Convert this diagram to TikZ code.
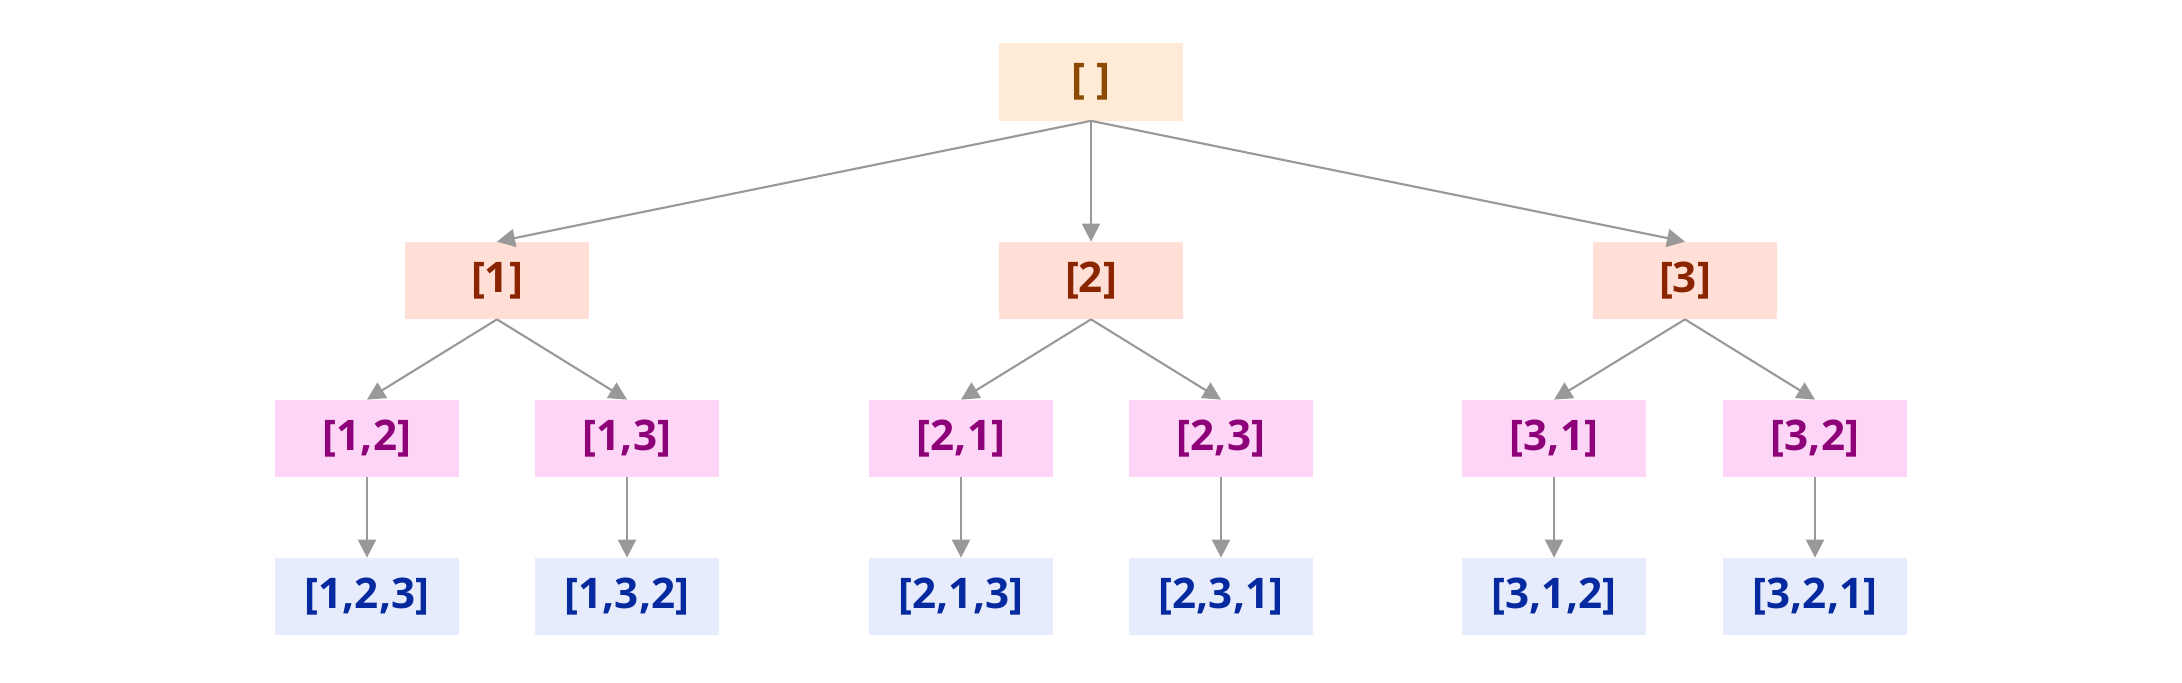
\documentclass[tikz,border=0pt]{standalone}
\usepackage{fontspec}
\usepackage{xcolor}
\usepackage{tikz}
\usetikzlibrary{positioning,arrows.meta}
\newfontfamily\permfont{Open Sans}
\definecolor{rootfill}{RGB}{255,234,214}
\definecolor{roottext}{RGB}{139,74,0}
\definecolor{onefill}{RGB}{255,223,214}
\definecolor{onetext}{RGB}{139,37,0}
\definecolor{twofill}{RGB}{253,213,247}
\definecolor{twotext}{RGB}{142,0,119}
\definecolor{threefill}{RGB}{230,236,252}
\definecolor{threetext}{RGB}{5,41,158}
\definecolor{edgegray}{RGB}{153,153,153}
\begin{document}
\begin{tikzpicture}[
  every node/.style={font=\permfont\bfseries\fontsize{24}{28}\selectfont},
  box/.style={
    inner sep=0pt, minimum width=3.68cm, minimum height=1.54cm
  },
  rnode/.style={box, fill=rootfill, text=roottext},
  anode/.style={box, fill=onefill, text=onetext},
  bnode/.style={box, fill=twofill, text=twotext},
  cnode/.style={box, fill=threefill, text=threetext},
  arr/.style={-{Triangle[length=0.36cm, width=0.36cm]}, line width=1.2pt, draw=edgegray}
]
\useasboundingbox (0,0) rectangle (43.64,13.64);

\node[rnode] (root) at (21.82, 12.00) {[ ]};

\node[anode] (p1) at ( 9.94, 8.03) {[1]};
\node[anode] (p2) at (21.82, 8.03) {[2]};
\node[anode] (p3) at (33.70, 8.03) {[3]};

\node[bnode] (p12) at ( 7.34, 4.87) {[1,2]};
\node[bnode] (p13) at (12.54, 4.87) {[1,3]};
\node[bnode] (p21) at (19.22, 4.87) {[2,1]};
\node[bnode] (p23) at (24.42, 4.87) {[2,3]};
\node[bnode] (p31) at (31.08, 4.87) {[3,1]};
\node[bnode] (p32) at (36.30, 4.87) {[3,2]};

\node[cnode] (p123) at ( 7.34, 1.71) {[1,2,3]};
\node[cnode] (p132) at (12.54, 1.71) {[1,3,2]};
\node[cnode] (p213) at (19.22, 1.71) {[2,1,3]};
\node[cnode] (p231) at (24.42, 1.71) {[2,3,1]};
\node[cnode] (p312) at (31.08, 1.71) {[3,1,2]};
\node[cnode] (p321) at (36.30, 1.71) {[3,2,1]};

%% Racine vers premier niveau
\foreach \c in {p1,p2,p3}
  \draw[arr] (root.south) -- (\c.north);

%% Premier niveau vers deuxieme
\draw[arr] (p1.south) -- (p12.north);
\draw[arr] (p1.south) -- (p13.north);
\draw[arr] (p2.south) -- (p21.north);
\draw[arr] (p2.south) -- (p23.north);
\draw[arr] (p3.south) -- (p31.north);
\draw[arr] (p3.south) -- (p32.north);

%% Deuxieme niveau vers feuilles
\foreach \a/\b in {p12/p123,p13/p132,p21/p213,p23/p231,p31/p312,p32/p321}
  \draw[arr] (\a.south) -- (\b.north);

\end{tikzpicture}
\end{document}
